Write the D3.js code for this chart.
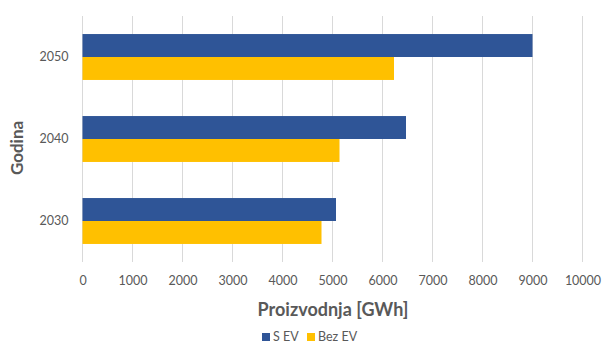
<!DOCTYPE html>
<html>
<head>
<meta charset="utf-8">
<script src="https://cdn.jsdelivr.net/npm/d3@7"></script>
<style>
  html, body { margin: 0; padding: 0; background: #fff; }
  svg { display: block; font-family: Lato, "Open Sans", sans-serif; }
</style>
</head>
<body>
<svg id="chart" width="603" height="347"></svg>
<script>
// Electricity production by year, with and without electric vehicles
const years = ["2050", "2040", "2030"];
const seriesNames = ["S EV", "Bez EV"];
const withEV = [9000, 6470, 5070];
const withoutEV = [6230, 5140, 4780];
const xTicks = [0, 1000, 2000, 3000, 4000, 5000, 6000, 7000, 8000, 9000, 10000];
const colors = ["#2F5597", "#FFC000"];

const svg = d3.select("#chart");
const plotLeft = 82.5, plotRight = 582.5, plotTop = 16, plotBottom = 262;

const x = d3.scaleLinear().domain([0, 10000]).range([plotLeft, plotRight]);
const y = d3.scaleBand().domain(years).range([plotTop, plotBottom]).paddingInner(0.44).paddingOuter(0.22);
const sub = d3.scaleBand().domain(seriesNames).range([0, y.bandwidth()]);

// vertical gridlines
svg.append("g").selectAll("line").data(xTicks).join("line")
  .attr("x1", d => x(d)).attr("x2", d => x(d))
  .attr("y1", plotTop).attr("y2", plotBottom)
  .attr("stroke", "#d9d9d9").attr("stroke-width", 1);

// bars
const rows = years.map((yr, i) => ({ year: yr, values: [withEV[i], withoutEV[i]] }));
const g = svg.append("g").selectAll("g").data(rows).join("g")
  .attr("transform", d => `translate(0,${y(d.year)})`);
g.selectAll("rect").data(d => d.values.map((v, k) => ({ v, k }))).join("rect")
  .attr("x", x(0))
  .attr("y", d => sub(seriesNames[d.k]))
  .attr("width", d => x(d.v) - x(0))
  .attr("height", sub.bandwidth())
  .attr("fill", d => colors[d.k]);

// x axis labels
const xAxis = d3.axisBottom(x).tickValues(xTicks).tickSize(0).tickPadding(0).tickFormat(d3.format("d"));
const xa = svg.append("g").attr("transform", `translate(0,${plotBottom + 14})`).call(xAxis);
xa.select(".domain").remove();
xa.selectAll("text").attr("fill", "#595959").attr("font-size", 12.5).attr("font-family", "Lato, sans-serif");

// y axis labels
const yAxis = d3.axisLeft(y).tickSize(0).tickPadding(14);
const ya = svg.append("g").attr("transform", `translate(${plotLeft},0)`).call(yAxis);
ya.select(".domain").remove();
ya.selectAll("text").attr("fill", "#595959").attr("font-size", 12.5).attr("font-family", "Lato, sans-serif");

// axis titles
svg.append("text").attr("x", 333).attr("y", 316).attr("text-anchor", "middle")
  .attr("font-size", 18).attr("font-weight", "bold").attr("fill", "#595959")
  .text("Proizvodnja [GWh]");
svg.append("text").attr("transform", "translate(23,148) rotate(-90)").attr("text-anchor", "middle")
  .attr("font-size", 17).attr("font-weight", "bold").attr("fill", "#595959")
  .text("Godina");

// legend
const legend = svg.append("g").attr("transform", "translate(262,341)");
const items = legend.selectAll("g").data(seriesNames).join("g")
  .attr("transform", (d, i) => `translate(${i === 0 ? 0 : 45},0)`);
items.append("rect").attr("x", 0).attr("y", -8).attr("width", 8).attr("height", 8)
  .attr("fill", (d, i) => colors[i]);
items.append("text").attr("x", 11).attr("y", 0).attr("font-size", 12.5).attr("fill", "#595959")
  .text(d => d);
</script>
</body>
</html>
